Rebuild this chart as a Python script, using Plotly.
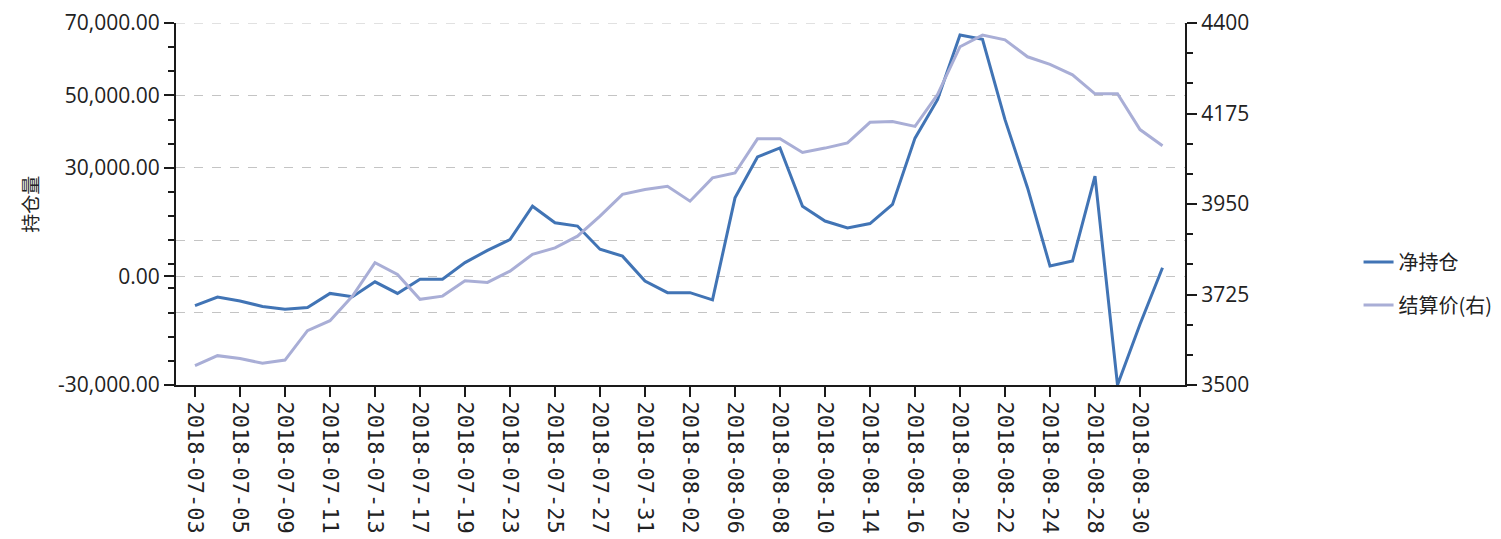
import numpy as np
import plotly.graph_objects as go

dates = ["2018-07-03","2018-07-04","2018-07-05","2018-07-06","2018-07-09","2018-07-10","2018-07-11",
         "2018-07-12","2018-07-13","2018-07-16","2018-07-17","2018-07-18","2018-07-19","2018-07-20",
         "2018-07-23","2018-07-24","2018-07-25","2018-07-26","2018-07-27","2018-07-30","2018-07-31",
         "2018-08-01","2018-08-02","2018-08-03","2018-08-06","2018-08-07","2018-08-08","2018-08-09",
         "2018-08-10","2018-08-13","2018-08-14","2018-08-15","2018-08-16","2018-08-17","2018-08-20",
         "2018-08-21","2018-08-22","2018-08-23","2018-08-24","2018-08-27","2018-08-28","2018-08-29",
         "2018-08-30","2018-08-31"]

net_position = [-8100, -5700, -6800, -8300, -9100, -8600, -4700, -5600, -1500, -4700, -800,
                -800, 3800, 7200, 10200, 19400, 14800, 13900, 7500, 5600, -1300, -4500,
                -4500, -6500, 21700, 33000, 35500, 19400, 15300, 13400, 14600, 19900, 38200,
                48800, 66700, 65500, 43300, 24500, 2850, 4250, 27700, -30000, -13200, 2400]

settle_price = [3548, 3573, 3566, 3554, 3562, 3635, 3660, 3721, 3804, 3775, 3713,
                3721, 3759, 3755, 3783, 3825, 3841, 3870, 3920, 3974, 3986, 3994,
                3957, 4015, 4027, 4112, 4112, 4078, 4089, 4102, 4153, 4155, 4143,
                4222, 4341, 4370, 4358, 4316, 4297, 4271, 4224, 4224, 4135, 4095]

series_names = ["净持仓", "结算价(右)"]
y_title = "持仓量"

left_tickvals = [-30000, -10000, 0, 10000, 30000, 50000, 70000]
left_ticktext = ["-30,000.00", "", "0.00", "", "30,000.00", "50,000.00", "70,000.00"]
right_tickvals = [3500, 3725, 3950, 4175, 4400]

C_NET = "#4174b5"
C_PRICE = "#a9aed6"
AX = "#1a1a1a"
GRID = "#c4c4c4"

fig = go.Figure()
fig.add_trace(go.Scatter(x=dates, y=settle_price, name=series_names[1], yaxis="y2",
                         mode="lines", line=dict(color=C_PRICE, width=3), legend="legend2"))
fig.add_trace(go.Scatter(x=dates, y=net_position, name=series_names[0], yaxis="y",
                         mode="lines", line=dict(color=C_NET, width=3), legend="legend"))

tick_font = dict(family="Open Sans, Liberation Sans, sans-serif", size=21, color="#222222")

fig.update_layout(
    width=1501, height=539,
    margin=dict(l=168, r=320, t=15, b=162),
    paper_bgcolor="white", plot_bgcolor="white",
    showlegend=True,
    xaxis=dict(
        type="category", range=[-0.844, 44.0],
        tickmode="linear", tick0=0, dtick=2,
        tickangle=90, ticks="outside", ticklen=10, tickwidth=1.5, tickcolor=AX,
        showline=True, linecolor=AX, linewidth=2,
        showgrid=False, zeroline=False, automargin=False,
        tickfont=dict(family="DejaVu Sans Mono, monospace", size=22, color="#222222"),
    ),
    yaxis=dict(
        range=[-30000, 70000],
        tickmode="array", tickvals=left_tickvals, ticktext=left_ticktext,
        ticks="outside", ticklen=10, tickwidth=1.5, tickcolor=AX,
        minor=dict(tickmode="array", tickvals=list(np.linspace(70000, -30000, 16)),
                   ticks="outside", ticklen=6, tickwidth=1.5, tickcolor=AX, showgrid=False),
        showline=True, linecolor=AX, linewidth=2,
        showgrid=True, gridcolor=GRID, griddash="dash", gridwidth=1,
        zeroline=False, automargin=False,
        tickfont=tick_font,
    ),
    yaxis2=dict(
        overlaying="y", side="right", range=[3500, 4400],
        tickmode="array", tickvals=right_tickvals,
        ticks="outside", ticklen=10, tickwidth=1.5, tickcolor=AX,
        minor=dict(dtick=75, tick0=3500, ticks="outside", ticklen=6, tickwidth=1.5,
                   tickcolor=AX, showgrid=False),
        showline=True, linecolor=AX, linewidth=2,
        showgrid=False, zeroline=False, automargin=False,
        tickfont=tick_font,
    ),
    legend=dict(x=1.172, y=0.34, xanchor="left", yanchor="middle",
                font=dict(family="Noto Sans CJK SC", size=20, color="#222222"),
                bgcolor="rgba(0,0,0,0)"),
    legend2=dict(x=1.172, y=0.221, xanchor="left", yanchor="middle",
                 font=dict(family="Noto Sans CJK SC", size=20, color="#222222"),
                 bgcolor="rgba(0,0,0,0)"),
    annotations=[dict(text=y_title, textangle=-90, xref="paper", yref="paper",
                      x=-0.146, y=0.5, xanchor="center", yanchor="middle", showarrow=False,
                      font=dict(family="Noto Sans CJK SC", size=19, color="#222222"))],
    shapes=[dict(type="line", xref="paper", yref="y", x0=0, x1=1, y0=left_tickvals[-1],
                 y1=left_tickvals[-1], line=dict(color=GRID, width=1, dash="dash"), layer="below")],
)

fig.write_html("out.html")
